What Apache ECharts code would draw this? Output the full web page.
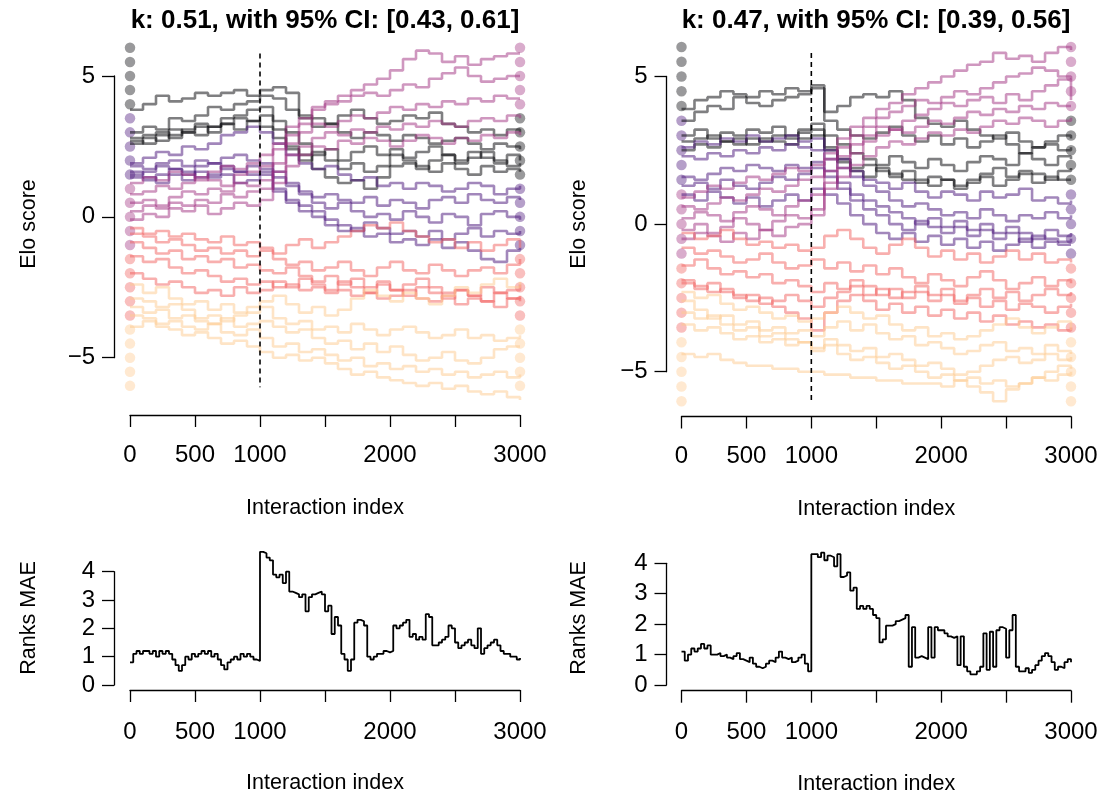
<!DOCTYPE html>
<html>
<head>
<meta charset="utf-8">
<script src="https://cdn.jsdelivr.net/npm/echarts@6/dist/echarts.min.js"></script>
<style>html,body{margin:0;padding:0;background:#fff}#c{width:1099px;height:796px}</style>
</head>
<body>
<div id="c"></div>
<script>
// ---------------- DATA ----------------
const titles = ['k: 0.51, with 95% CI: [0.43, 0.61]', 'k: 0.47, with 95% CI: [0.39, 0.56]'];
const changeIndex = 1000;
const dashSpan = [[5.8, -6.05], [5.8, -6.05]];

const eloSteps = [0,100,200,300,400,500,600,700,800,900,1000,1100,1200,1300,1400,1500,1600,1700,1800,1900,2000,2100,2200,2300,2400,2500,2600,2700,2800,2900,3000];

const maeSteps = [0,25,50,75,100,125,150,175,200,225,250,275,300,325,350,375,400,425,450,475,500,525,550,575,600,625,650,675,700,725,750,775,800,825,850,875,900,925,950,975,
1000,1025,1050,1075,1100,1125,1150,1175,1200,1225,1250,1275,1300,1325,1350,1375,1400,1425,1450,1475,1500,1525,1550,1575,1600,1625,1650,1675,1700,1725,1750,1775,1800,1825,1850,1875,1900,1925,1950,1975,
2000,2025,2050,2075,2100,2125,2150,2175,2200,2225,2250,2275,2300,2325,2350,2375,2400,2425,2450,2475,2500,2525,2550,2575,2600,2625,2650,2675,2700,2725,2750,2775,2800,2825,2850,2875,2900,2925,2950,2975,3000];

const xTickValues = [0,500,1000,1500,2000,2500,3000];
const xTickLabels = ['0','500','1000','','2000','','3000'];
const eloTickValues = [-5,0,5];
const eloTickLabels = ['\u22125','0','5'];
const maeTickValues = [0,1,2,3,4];
const maeTickLabels = ['0','1','2','3','4'];

const dotValues = [6,5.5,5,4.5,4,3.5,3,2.5,2,1.5,1,0.5,0,-0.5,-1,-1.5,-2,-2.5,-3,-3.5,-4,-4.5,-5,-5.5,-6];
const startDotGroup = [0,0,0,0,0,1,1,1,1,1,2,2,2,2,2,3,3,3,3,3,4,4,4,4,4];
const endDotGroup   = [2,2,2,2,2,0,0,0,0,0,1,1,1,1,1,3,3,3,3,3,4,4,4,4,4];
const groupColors = ['#000004','#451077','#9F2F7F','#F1605D','#FEC98D'];

// Left panel Elo trajectories (one value per eloSteps entry)
const leftGray = [
[3.8,4.0,4.3,4.1,4.2,4.4,4.3,4.4,4.5,4.3,4.5,4.6,4.4,3.6,3.5,3.3,3.6,3.8,3.5,3.3,3.4,3.6,3.5,3.7,3.3,3.2,3.0,3.1,2.9,3.1,3.0],
[3.0,3.2,3.1,3.5,3.4,3.6,3.9,3.8,4.0,4.1,4.3,4.2,3.8,3.5,3.2,3.3,3.0,2.8,3.0,2.9,2.7,2.9,2.8,2.6,2.7,2.8,2.6,2.4,2.6,2.5,2.4],
[2.8,2.9,3.0,2.8,3.1,3.3,3.2,3.5,3.6,3.8,3.9,3.4,3.0,2.6,2.2,2.4,2.0,2.3,2.5,2.2,2.4,2.1,2.3,2.5,2.2,2.0,2.3,2.1,1.9,2.2,2.0],
[2.7,2.6,2.9,3.1,3.0,2.9,3.2,3.3,3.1,3.4,3.6,3.1,2.5,2.2,1.7,1.4,1.2,1.3,1.0,1.4,1.8,1.9,1.7,2.0,2.2,1.9,2.1,2.3,2.0,1.8,1.9],
[2.6,2.8,2.7,2.9,3.0,3.2,3.0,3.3,3.5,3.4,3.2,2.8,2.4,2.0,2.3,2.0,1.7,1.9,1.6,1.8,2.2,2.0,1.8,1.6,1.9,1.7,1.5,1.8,1.6,1.7,1.6]
];
const leftPurple = [
[1.9,2.1,2.3,2.2,2.5,2.4,2.6,2.9,3.0,3.2,3.0,2.6,2.2,1.9,1.7,1.8,1.5,1.3,1.4,1.1,1.2,1.0,1.2,1.1,0.9,1.0,1.2,1.1,0.8,1.0,1.1],
[1.8,1.7,1.9,2.0,1.8,2.0,1.9,2.1,2.2,2.0,1.9,1.6,1.2,0.9,0.7,0.8,0.6,0.5,0.7,0.4,0.6,0.5,0.3,0.6,0.7,0.5,0.8,0.6,0.5,0.7,0.6],
[1.5,1.6,1.8,1.7,1.5,1.8,1.9,1.7,1.6,1.8,1.7,1.4,1.1,0.8,0.5,0.3,0.5,0.2,0.0,0.1,-0.1,0.2,0.0,-0.2,0.1,0.0,-0.3,0.1,0.2,0.0,-0.1],
[1.4,1.3,1.5,1.7,1.6,1.4,1.5,1.8,1.6,1.5,1.6,1.0,0.6,0.4,0.2,-0.1,-0.3,-0.5,-0.2,-0.4,-0.6,-0.5,-0.7,-0.5,-0.8,-0.6,-0.4,-0.7,-0.5,-0.6,-0.5],
[1.6,1.4,1.2,1.5,1.3,1.6,1.4,1.5,1.2,1.3,1.5,0.9,0.5,0.2,0.0,-0.3,-0.5,-0.4,-0.7,-0.6,-0.9,-0.8,-1.0,-0.8,-1.1,-0.9,-1.2,-1.5,-1.6,-1.2,-1.1]
];
const leftMagenta = [
[1.2,1.4,1.3,1.6,1.5,1.3,1.6,1.8,1.7,1.9,2.2,2.6,3.2,3.5,3.9,4.1,4.3,4.5,4.7,4.9,5.2,5.6,5.9,5.8,5.5,5.7,5.4,5.6,5.7,5.8,5.8],
[0.8,0.9,1.1,1.0,1.2,1.4,1.3,1.1,1.5,1.6,1.8,2.4,2.9,3.3,3.8,4.0,4.1,4.3,4.4,4.3,4.5,4.7,4.6,4.9,5.1,5.3,5.0,4.8,4.9,5.0,5.0],
[0.5,0.6,0.4,0.7,0.9,0.8,1.0,0.9,1.2,1.1,1.3,1.9,2.6,3.0,3.3,3.2,3.4,3.6,3.5,3.7,3.9,3.8,4.0,3.9,4.1,4.0,4.2,4.1,4.3,4.2,4.2],
[0.2,0.4,0.3,0.5,0.4,0.6,0.5,0.8,0.7,0.9,1.0,1.6,2.2,2.5,2.8,3.0,2.9,3.1,3.0,3.2,3.1,3.3,3.2,3.4,3.3,3.2,3.4,3.5,3.4,3.6,3.5],
[-0.1,0.1,0.0,0.3,0.2,0.4,0.1,0.3,0.5,0.4,0.6,1.2,1.8,2.2,2.5,2.4,2.7,2.6,2.8,2.7,2.5,2.7,2.9,2.8,2.6,2.8,2.7,2.9,2.8,3.0,2.9]
];
const leftRed = [
[-0.4,-0.6,-0.5,-0.7,-0.6,-0.8,-0.9,-0.7,-1.0,-0.9,-1.1,-1.3,-1.0,-0.8,-1.1,-0.9,-0.7,-0.5,-0.3,-0.4,-0.2,-0.5,-0.7,-0.9,-0.8,-1.1,-0.9,-1.2,-1.0,-0.8,-1.1],
[-0.6,-0.7,-0.9,-0.8,-1.0,-1.2,-1.1,-1.3,-1.2,-1.4,-1.2,-1.5,-1.7,-1.6,-1.9,-1.8,-1.6,-1.9,-2.1,-1.8,-1.6,-1.9,-2.0,-1.7,-1.9,-2.1,-1.9,-1.8,-2.0,-1.7,-1.5],
[-0.9,-1.1,-1.3,-1.2,-1.5,-1.4,-1.6,-1.5,-1.8,-1.7,-1.9,-2.0,-1.8,-2.1,-2.3,-2.1,-2.4,-2.2,-2.5,-2.3,-2.6,-2.4,-2.2,-2.5,-2.7,-2.6,-2.8,-2.5,-2.7,-2.6,-2.4],
[-1.4,-1.6,-1.5,-1.8,-2.0,-1.9,-2.1,-2.3,-2.2,-2.4,-2.3,-2.5,-2.4,-2.6,-2.5,-2.7,-2.6,-2.8,-2.7,-2.9,-2.8,-2.6,-2.9,-3.0,-2.8,-3.1,-2.9,-3.0,-3.2,-2.9,-3.0],
[-2.0,-2.2,-2.4,-2.3,-2.5,-2.7,-2.6,-2.8,-2.5,-2.7,-2.6,-2.3,-2.5,-2.2,-2.4,-2.6,-2.3,-2.5,-2.7,-2.4,-2.6,-2.8,-2.5,-2.7,-2.9,-2.6,-2.8,-3.0,-2.7,-2.9,-2.8]
];
const leftOrange = [
[-2.4,-2.7,-2.5,-2.9,-3.1,-3.0,-3.3,-3.1,-3.4,-3.2,-3.0,-2.8,-3.1,-3.4,-3.2,-3.5,-3.3,-2.9,-2.6,-2.8,-3.0,-2.7,-2.9,-3.1,-2.8,-2.5,-2.7,-2.4,-2.2,-2.5,-2.3],
[-2.9,-3.0,-3.2,-3.1,-3.3,-3.6,-3.5,-3.7,-3.5,-3.4,-3.2,-3.6,-3.8,-3.7,-4.0,-3.9,-4.1,-3.8,-4.0,-4.2,-4.0,-3.9,-4.1,-4.3,-4.2,-4.0,-4.3,-4.2,-4.4,-4.3,-4.2],
[-3.2,-3.4,-3.3,-3.6,-3.5,-3.7,-3.8,-3.6,-3.9,-3.8,-3.7,-3.9,-4.1,-4.0,-4.3,-4.5,-4.4,-4.7,-4.5,-4.8,-4.6,-4.9,-5.1,-5.0,-4.8,-5.1,-5.2,-5.0,-4.7,-4.6,-4.6],
[-3.5,-3.6,-3.8,-3.7,-3.9,-4.0,-3.8,-4.1,-4.2,-4.0,-4.3,-4.6,-4.5,-4.8,-4.7,-4.9,-5.1,-5.0,-5.3,-5.2,-5.4,-5.3,-5.5,-5.4,-5.6,-5.5,-5.7,-5.6,-5.5,-5.7,-5.6],
[-3.9,-3.7,-3.9,-4.0,-4.2,-4.1,-4.3,-4.5,-4.4,-4.6,-4.8,-5.0,-4.9,-5.1,-5.0,-5.2,-5.4,-5.6,-5.5,-5.7,-5.8,-5.9,-6.0,-5.9,-6.1,-6.0,-6.2,-6.3,-6.2,-6.4,-6.5]
];

// Right panel Elo trajectories
const rightGray = [
[3.9,4.2,4.3,4.5,4.4,4.3,4.5,4.4,4.6,4.5,4.7,3.8,4.0,4.3,4.4,4.3,4.5,4.2,3.6,3.4,3.3,3.5,3.2,3.0,2.9,3.1,2.8,2.6,2.7,2.5,2.6],
[3.5,3.8,4.0,3.9,4.3,4.1,4.0,4.2,4.3,4.4,4.6,3.5,3.2,3.0,2.9,3.1,3.3,3.0,2.8,3.0,2.7,2.9,2.6,2.8,3.0,2.7,2.4,2.6,2.8,3.0,2.9],
[3.0,3.2,2.9,3.1,3.0,3.2,3.1,3.3,3.0,3.2,3.4,3.0,2.7,2.4,2.2,2.0,2.3,2.1,1.9,2.2,2.0,1.8,2.1,2.3,2.2,2.0,2.4,2.2,2.0,2.3,2.2],
[2.8,2.9,3.0,2.8,2.7,2.9,2.8,3.0,2.9,3.1,3.2,2.6,2.1,1.8,1.6,1.9,1.7,1.5,1.4,1.6,1.5,1.3,1.5,1.7,1.9,1.6,1.8,1.7,1.5,1.8,1.9],
[2.5,2.7,2.6,2.8,2.9,2.7,2.9,2.8,2.7,2.9,3.0,2.5,2.2,1.9,2.0,1.8,1.6,1.8,1.5,1.3,1.5,1.2,1.4,1.6,1.3,1.5,1.7,1.4,1.6,1.5,1.5]
];
const rightPurple = [
[2.6,2.8,2.7,2.9,2.8,3.0,2.8,2.9,3.0,2.8,2.9,2.5,2.2,1.8,1.5,1.4,1.2,1.4,1.1,0.9,1.1,1.0,0.8,1.1,0.9,1.0,1.2,0.8,0.9,0.7,0.8],
[2.3,2.2,2.4,2.3,2.5,2.4,2.6,2.5,2.7,2.6,2.5,2.2,1.9,1.6,1.3,1.1,0.8,0.6,0.7,0.5,0.3,0.4,0.2,0.5,0.3,0.1,0.3,0.2,0.4,0.2,0.3],
[1.6,1.5,1.7,1.9,1.8,2.0,1.9,1.8,2.0,1.9,2.1,1.8,1.4,1.0,0.8,0.6,0.4,0.2,0.0,0.2,-0.1,0.1,-0.2,0.0,-0.3,-0.1,-0.3,-0.5,-0.2,-0.4,-0.3],
[1.3,1.4,1.2,1.5,1.3,1.2,1.4,1.6,1.5,1.7,1.9,1.6,1.2,0.8,0.5,0.3,0.0,-0.2,0.1,-0.1,-0.3,-0.1,-0.4,-0.2,-0.5,-0.3,-0.6,-0.4,-0.5,-0.6,-0.5],
[1.0,0.8,1.1,0.9,0.7,0.9,0.6,0.8,1.0,0.8,1.2,1.0,0.7,0.3,0.0,-0.3,-0.5,-0.3,-0.6,-0.4,-0.7,-0.5,-0.8,-0.6,-0.9,-0.7,-0.5,-0.8,-0.6,-0.7,-0.7]
];
const rightMagenta = [
[0.9,1.1,1.3,1.2,1.4,1.6,1.5,1.7,1.9,1.8,2.0,2.4,2.9,3.3,3.6,3.9,4.1,4.4,4.6,4.8,5.0,5.2,5.4,5.5,5.8,5.6,5.7,5.5,5.8,6.0,5.9],
[0.6,0.5,0.7,0.9,0.8,1.0,1.2,1.1,1.3,1.5,1.6,2.2,2.6,3.0,3.3,3.6,3.8,4.0,4.2,4.1,4.3,4.5,4.4,4.6,4.8,5.0,5.1,5.3,5.2,5.0,4.9],
[0.2,0.4,0.3,0.1,0.4,0.6,0.5,0.3,0.6,0.8,1.0,1.8,2.3,2.7,3.0,3.3,3.2,3.5,3.7,3.9,4.1,4.0,4.2,4.3,4.1,4.4,4.2,4.5,4.7,4.9,4.2],
[-0.2,0.0,-0.3,-0.1,0.2,0.0,-0.2,0.1,0.3,0.2,0.5,1.4,1.9,2.4,2.8,3.0,3.2,3.1,3.3,3.5,3.4,3.6,3.8,3.7,3.9,3.8,4.0,3.9,4.1,4.0,4.0],
[-0.5,-0.3,-0.4,-0.6,-0.3,-0.5,-0.2,-0.4,-0.1,0.0,0.3,1.2,1.6,2.0,2.3,2.6,2.8,2.7,2.9,3.1,3.0,3.2,3.1,3.3,3.5,3.4,3.6,3.5,3.3,3.5,3.6]
];
const rightRed = [
[-0.3,-0.5,-0.4,-0.2,-0.5,-0.7,-0.6,-0.8,-0.7,-0.9,-0.8,-0.4,-0.2,-0.5,-0.8,-1.0,-0.7,-0.5,-0.8,-1.1,-0.9,-1.2,-1.0,-1.3,-1.1,-0.9,-1.2,-1.0,-1.3,-1.2,-1.3],
[-0.8,-1.0,-0.9,-1.1,-1.3,-1.2,-1.0,-1.3,-1.5,-1.4,-1.2,-1.5,-1.3,-1.6,-1.4,-1.7,-1.5,-1.8,-2.0,-1.7,-1.9,-2.1,-1.8,-1.6,-1.9,-2.2,-2.0,-1.8,-2.1,-1.9,-2.0],
[-1.4,-1.2,-1.5,-1.7,-1.6,-1.8,-1.7,-2.0,-1.9,-2.1,-2.3,-2.0,-2.2,-1.9,-2.1,-2.4,-2.2,-2.5,-2.3,-2.6,-2.4,-2.7,-2.5,-2.8,-2.6,-2.9,-2.7,-2.8,-3.0,-2.8,-2.7],
[-2.0,-2.1,-2.3,-2.2,-2.4,-2.6,-2.5,-2.8,-3.0,-3.2,-3.6,-3.0,-2.6,-2.4,-2.6,-2.9,-2.7,-3.0,-2.8,-3.1,-2.9,-3.2,-3.0,-3.3,-3.1,-3.4,-3.3,-3.5,-3.4,-3.6,-3.5],
[-1.9,-2.2,-2.0,-2.3,-2.5,-2.4,-2.7,-2.6,-2.4,-2.6,-2.8,-2.5,-2.3,-2.1,-2.4,-2.2,-2.5,-2.3,-2.1,-2.4,-2.2,-2.6,-2.4,-2.2,-2.5,-2.3,-2.6,-2.4,-2.2,-2.4,-2.3]
];
const rightOrange = [
[-2.3,-2.5,-2.4,-2.7,-2.9,-2.8,-3.0,-3.2,-3.1,-3.3,-3.2,-3.0,-2.8,-3.0,-3.2,-3.1,-3.4,-3.6,-3.5,-3.8,-3.7,-3.9,-3.8,-3.6,-3.4,-3.2,-3.5,-3.7,-3.5,-3.3,-3.6],
[-2.6,-2.9,-3.2,-3.1,-3.4,-3.3,-3.6,-3.5,-3.7,-3.6,-3.8,-3.5,-3.3,-3.6,-3.4,-3.7,-3.9,-3.8,-4.1,-4.0,-4.2,-4.4,-4.3,-4.1,-4.0,-4.3,-4.2,-4.4,-4.1,-4.3,-4.4],
[-3.0,-3.2,-3.1,-3.4,-3.6,-3.5,-3.8,-3.7,-3.9,-4.0,-4.2,-3.9,-4.1,-4.3,-4.2,-4.5,-4.4,-4.6,-4.8,-4.7,-4.9,-5.1,-5.0,-4.8,-4.6,-4.5,-4.7,-4.6,-4.4,-4.6,-4.5],
[-3.4,-3.6,-3.5,-3.7,-3.9,-3.8,-4.0,-3.9,-4.1,-4.0,-4.3,-4.1,-4.4,-4.6,-4.5,-4.7,-4.9,-4.8,-5.0,-5.2,-5.1,-5.3,-5.5,-5.7,-6.0,-5.6,-5.4,-5.2,-5.0,-4.8,-4.9],
[-4.4,-4.5,-4.4,-4.6,-4.7,-4.8,-4.8,-4.9,-4.9,-5.0,-5.0,-5.1,-5.1,-5.2,-5.2,-5.3,-5.3,-5.4,-5.4,-5.4,-5.5,-5.3,-5.2,-5.4,-5.3,-5.5,-5.4,-5.2,-5.3,-5.1,-5.0]
];

// Ranks MAE (one value per maeSteps entry)
const leftMAE = [0.8,1.1,1.2,1.1,1.2,1.2,1.1,1.2,1.0,1.2,1.1,1.2,1.1,0.9,0.7,0.5,0.7,1.0,0.9,1.1,1.0,1.1,1.2,1.1,1.2,1.0,1.1,0.9,0.7,0.55,0.8,0.9,1.0,0.9,1.1,1.0,1.1,1.0,0.9,0.85,
4.7,4.65,4.5,4.4,3.9,3.8,3.9,3.6,4.0,3.3,3.25,3.2,3.1,3.2,2.6,3.1,3.2,3.25,3.3,3.2,2.6,2.8,1.8,2.4,2.1,1.1,0.9,0.5,0.9,2.2,2.3,2.25,2.1,1.0,0.9,1.0,1.1,1.1,1.2,1.15,
1.2,2.1,2.0,2.1,2.2,2.3,1.7,1.8,1.6,1.7,1.6,2.5,2.4,1.4,1.4,1.5,1.6,1.7,2.1,2.0,1.5,1.3,1.4,1.5,1.6,1.4,1.3,2.0,1.1,1.3,1.4,1.5,1.6,1.4,1.2,1.1,1.1,1.0,1.0,0.9,0.95];
const rightMAE = [1.1,0.8,1.0,1.2,1.1,1.2,1.35,1.2,1.3,1.0,1.0,1.05,0.95,1.0,0.9,0.85,0.95,1.05,0.85,0.8,0.75,0.9,0.7,0.6,0.55,0.6,0.7,0.8,0.75,0.9,1.1,0.9,0.85,0.9,0.75,0.8,0.9,1.0,0.7,0.45,
4.3,4.3,4.2,4.35,4.1,4.25,4.2,3.9,4.3,3.55,3.6,3.7,3.1,3.2,2.5,2.6,2.5,2.6,2.5,2.3,2.2,1.4,1.5,1.95,1.95,2.0,2.1,2.15,2.2,2.3,0.6,1.9,0.9,0.95,0.9,0.85,1.9,0.9,1.9,1.8,
1.8,1.7,1.6,1.55,1.6,0.65,1.6,0.6,0.45,0.35,0.35,0.45,0.6,1.7,0.5,1.75,0.6,1.8,1.9,1.85,0.9,1.8,2.3,0.6,0.45,0.45,0.55,0.4,0.5,0.65,0.8,0.95,1.05,0.95,0.75,0.5,0.6,0.55,0.75,0.85,0.75];

// ---------------- BUILD ----------------
const FONT = '"Liberation Sans", Arial, Helvetica, sans-serif';
const TICK_FS = 24;
const LAB_FS = 21.5;
function rgba(hex, a) {
  const n = parseInt(hex.slice(1), 16);
  return 'rgba(' + ((n >> 16) & 255) + ',' + ((n >> 8) & 255) + ',' + (n & 255) + ',' + a + ')';
}
function mapLabel(vals, labs) { return v => { const i = vals.indexOf(v); return i < 0 ? '' : labs[i]; }; }

const panels = [
  {groups: [leftGray, leftPurple, leftMagenta, leftRed, leftOrange], mae: leftMAE},
  {groups: [rightGray, rightPurple, rightMagenta, rightRed, rightOrange], mae: rightMAE}
];

// layout (pixels)
const gridsCfg = [
  {left: 130, top: 76, width: 390, height: 281.7, yOff: 16, xOff: 57.3, lblMargin: 28},
  {left: 681.5, top: 76.5, width: 389.5, height: 295.2, yOff: 15, xOff: 44.8, lblMargin: 28},
  {left: 130, top: 571.7, width: 390, height: 113.3, yOff: 16, xOff: 5, lblMargin: 30},
  {left: 681.5, top: 563.3, width: 389.5, height: 121.7, yOff: 15, xOff: 5.7, lblMargin: 30}
];

const axisLineStyle = {color: '#000', width: 1.3};
function xAxisFor(i) {
  return {
    type: 'value', gridIndex: i, min: 0, max: 3000, interval: 500,
    offset: gridsCfg[i].xOff,
    axisLine: {show: true, onZero: false, lineStyle: axisLineStyle},
    axisTick: {show: true, length: 12, lineStyle: axisLineStyle},
    axisLabel: {show: true, color: '#000', fontSize: TICK_FS, fontFamily: FONT, margin: gridsCfg[i].lblMargin,
      formatter: mapLabel(xTickValues, xTickLabels), showMinLabel: true, showMaxLabel: true, hideOverlap: false},
    splitLine: {show: false},
    name: 'Interaction index', nameLocation: 'middle', nameGap: 82,
    nameTextStyle: {color: '#000', fontSize: LAB_FS, fontFamily: FONT}
  };
}
function yAxisFor(i, isElo) {
  return {
    type: 'value', gridIndex: i,
    min: isElo ? -5 : 0, max: isElo ? 5 : 4, interval: isElo ? 5 : 1,
    offset: gridsCfg[i].yOff,
    axisLine: {show: true, onZero: false, lineStyle: axisLineStyle},
    axisTick: {show: true, length: 12, lineStyle: axisLineStyle},
    axisLabel: {show: true, color: '#000', fontSize: TICK_FS, fontFamily: FONT, margin: 19,
      formatter: isElo ? mapLabel(eloTickValues, eloTickLabels) : mapLabel(maeTickValues, maeTickLabels),
      showMinLabel: true, showMaxLabel: true, hideOverlap: false},
    splitLine: {show: false}
  };
}

const series = [];
panels.forEach((p, pi) => {
  // dots at start and end
  series.push({
    type: 'scatter', xAxisIndex: pi, yAxisIndex: pi, symbolSize: 10.5, clip: false, silent: true, z: 2,
    data: dotValues.map((v, k) => ({value: [0, v], itemStyle: {color: rgba(groupColors[startDotGroup[k]], 0.5)}}))
  });
  series.push({
    type: 'scatter', xAxisIndex: pi, yAxisIndex: pi, symbolSize: 10.5, clip: false, silent: true, z: 2,
    data: dotValues.map((v, k) => ({value: [3000, v], itemStyle: {color: rgba(groupColors[endDotGroup[k]], 0.5)}}))
  });
  // trajectories
  p.groups.forEach((grp, gi) => {
    grp.forEach(arr => {
      series.push({
        type: 'line', xAxisIndex: pi, yAxisIndex: pi, step: 'end', showSymbol: false, symbol: 'none',
        clip: false, silent: true, z: 3,
        lineStyle: {color: rgba(groupColors[gi], 0.5), width: 2.6},
        data: eloSteps.map((x, k) => [x, arr[k]])
      });
    });
  });
  // dashed change line
  series.push({
    type: 'line', xAxisIndex: pi, yAxisIndex: pi, showSymbol: false, symbol: 'none', clip: false, silent: true, z: 4,
    lineStyle: {color: '#000', width: 1.6, type: [5, 4]},
    data: [[changeIndex, dashSpan[pi][0]], [changeIndex, dashSpan[pi][1]]]
  });
  // MAE
  series.push({
    type: 'line', xAxisIndex: pi + 2, yAxisIndex: pi + 2, step: 'end', showSymbol: false, symbol: 'none',
    clip: false, silent: true,
    lineStyle: {color: '#000', width: 1.8},
    data: maeSteps.map((x, k) => [x, p.mae[k]])
  });
});

const graphic = [
  {type: 'text', x: 325, y: 21, style: {text: titles[0], fill: '#000', font: 'bold 26px ' + FONT, align: 'center', verticalAlign: 'middle'}},
  {type: 'text', x: 876, y: 21, style: {text: titles[1], fill: '#000', font: 'bold 26px ' + FONT, align: 'center', verticalAlign: 'middle'}},
  {type: 'text', x: 29, y: 224, rotation: Math.PI / 2, style: {text: 'Elo score', fill: '#000', font: LAB_FS + 'px ' + FONT, align: 'center', verticalAlign: 'middle'}},
  {type: 'text', x: 579, y: 224, rotation: Math.PI / 2, style: {text: 'Elo score', fill: '#000', font: LAB_FS + 'px ' + FONT, align: 'center', verticalAlign: 'middle'}},
  {type: 'text', x: 29, y: 618, rotation: Math.PI / 2, style: {text: 'Ranks MAE', fill: '#000', font: LAB_FS + 'px ' + FONT, align: 'center', verticalAlign: 'middle'}},
  {type: 'text', x: 579, y: 618, rotation: Math.PI / 2, style: {text: 'Ranks MAE', fill: '#000', font: LAB_FS + 'px ' + FONT, align: 'center', verticalAlign: 'middle'}}
];

const chart = echarts.init(document.getElementById('c'), null, {renderer: 'canvas'});
chart.setOption({
  animation: false,
  backgroundColor: '#fff',
  grid: gridsCfg.map(g => ({left: g.left, top: g.top, width: g.width, height: g.height, containLabel: false, outerBoundsMode: 'none'})),
  xAxis: [0, 1, 2, 3].map(i => xAxisFor(i)),
  yAxis: [0, 1, 2, 3].map(i => yAxisFor(i, i < 2)),
  series: series,
  graphic: graphic
});
</script>
</body>
</html>
